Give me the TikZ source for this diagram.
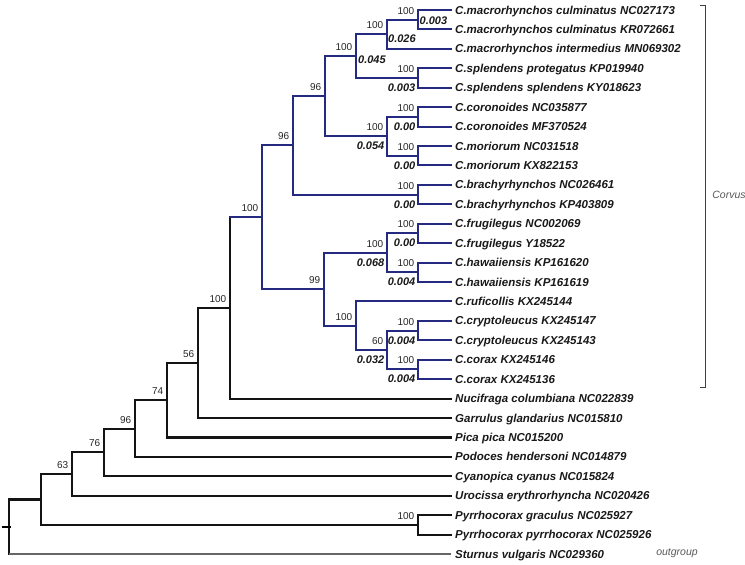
\documentclass[tikz,border=0pt]{standalone}
\usepackage{fontspec}
\setmainfont{Liberation Sans}
\definecolor{treeblue}{RGB}{36,42,128}
\begin{document}
\begin{tikzpicture}[x=1pt,y=-1pt,
  br/.style={line width=2.1pt, line cap=rect, black!92},
  bb/.style={line width=2pt, line cap=rect, treeblue},
  thinbr/.style={line width=1.1pt, gray!80!black},
  toleaf/.style={shorten >=4pt},
  taxon/.style={anchor=west, inner sep=0pt, text height=8.2pt, text depth=0pt,
    font=\fontsize{11.5}{12}\selectfont\bfseries\itshape, text=black!90},
  bs/.style={anchor=base east, inner sep=0pt, xshift=-3.5pt, yshift=5.5pt,
    font=\fontsize{10}{11}\selectfont, text=black!85},
  bl/.style={anchor=east, inner sep=0pt, xshift=-2.5pt, yshift=-9.7pt,
    font=\fontsize{11}{12}\selectfont\bfseries\itshape, text=black!90},
  blw/.style={anchor=west, inner sep=0pt,
    font=\fontsize{11}{12}\selectfont\bfseries\itshape, text=black!90},
  grp/.style={inner sep=0pt, font=\fontsize{10.5}{12}\selectfont\itshape, text=black!65}
]
\fill[white] (0,0) rectangle (745,565);
\useasboundingbox (0,0) rectangle (745,565);

% taxa
\node[taxon] (t0)  at (455,10)     {C.macrorhynchos culminatus NC027173};
\node[taxon] (t1)  at (455,29.43)  {C.macrorhynchos culminatus KR072661};
\node[taxon] (t2)  at (455,48.86)  {C.macrorhynchos intermedius MN069302};
\node[taxon] (t3)  at (455,68.29)  {C.splendens protegatus KP019940};
\node[taxon] (t4)  at (455,87.72)  {C.splendens splendens KY018623};
\node[taxon] (t5)  at (455,107.15) {C.coronoides NC035877};
\node[taxon] (t6)  at (455,126.58) {C.coronoides MF370524};
\node[taxon] (t7)  at (455,146.01) {C.moriorum NC031518};
\node[taxon] (t8)  at (455,165.44) {C.moriorum KX822153};
\node[taxon] (t9)  at (455,184.87) {C.brachyrhynchos NC026461};
\node[taxon] (t10) at (455,204.30) {C.brachyrhynchos KP403809};
\node[taxon] (t11) at (455,223.73) {C.frugilegus NC002069};
\node[taxon] (t12) at (455,243.16) {C.frugilegus Y18522};
\node[taxon] (t13) at (455,262.59) {C.hawaiiensis KP161620};
\node[taxon] (t14) at (455,282.02) {C.hawaiiensis KP161619};
\node[taxon] (t15) at (455,301.45) {C.ruficollis KX245144};
\node[taxon] (t16) at (455,320.88) {C.cryptoleucus KX245147};
\node[taxon] (t17) at (455,340.31) {C.cryptoleucus KX245143};
\node[taxon] (t18) at (455,359.74) {C.corax KX245146};
\node[taxon] (t19) at (455,379.17) {C.corax KX245136};
\node[taxon] (t20) at (455,398.60) {Nucifraga columbiana NC022839};
\node[taxon] (t21) at (455,418.03) {Garrulus glandarius NC015810};
\node[taxon] (t22) at (455,437.46) {Pica pica NC015200};
\node[taxon] (t23) at (455,456.89) {Podoces hendersoni NC014879};
\node[taxon] (t24) at (455,476.32) {Cyanopica cyanus NC015824};
\node[taxon] (t25) at (455,495.75) {Urocissa erythrorhyncha NC020426};
\node[taxon] (t26) at (455,515.18) {Pyrrhocorax graculus NC025927};
\node[taxon] (t27) at (455,534.61) {Pyrrhocorax pyrrhocorax NC025926};
\node[taxon] (t28) at (455,554.04) {Sturnus vulgaris NC029360};

% internal nodes
\coordinate (root)  at (9,526.77);
\coordinate (n63)   at (41,499.5);
\coordinate (n72)   at (72,474.1);
\coordinate (n104)  at (104,452.44);
\coordinate (n135)  at (135,428.56);
\coordinate (n167)  at (167,400.23);
\coordinate (n198)  at (198,363.0);
\coordinate (n230)  at (230,307.98);
\coordinate (cv)    at (262,217.36);
\coordinate (n293)  at (293,145.40);
\coordinate (n325)  at (325,96.22);
\coordinate (n356)  at (356,56.15);
\coordinate (n387a) at (387,34.29);
\coordinate (pculm) at (418,19.72);
\coordinate (pspl)  at (418,78.0);
\coordinate (n387b) at (387,136.3);
\coordinate (pcor)  at (418,116.87);
\coordinate (pmor)  at (418,155.73);
\coordinate (pbra)  at (418,194.59);
\coordinate (n324)  at (324,289.31);
\coordinate (n387c) at (387,252.88);
\coordinate (pfru)  at (418,233.45);
\coordinate (phaw)  at (418,272.31);
\coordinate (n356b) at (356,325.74);
\coordinate (n387d) at (387,350.03);
\coordinate (pcry)  at (418,330.6);
\coordinate (pcrx)  at (418,369.46);
\coordinate (ppyr)  at (418,524.9);

% black backbone
\draw[br] (root) |- (n63);
\draw[br] (root) -- (root |- t28.west);
\draw[thinbr, toleaf] (root |- t28.west) -- (t28.west);
\draw[line width=1.6pt] ([xshift=-7.5pt]root) -- ([xshift=1.5pt]root);
\draw[br] (n63) |- (n72);
\draw[br] (n63) |- (ppyr);
\draw[br, toleaf] (ppyr) |- (t26.west);
\draw[br, toleaf] (ppyr) |- (t27.west);
\draw[br] (n72) |- (n104);
\draw[br, toleaf] (n72) |- (t25.west);
\draw[br] (n104) |- (n135);
\draw[br, toleaf] (n104) |- (t24.west);
\draw[br] (n135) |- (n167);
\draw[br, toleaf] (n135) |- (t23.west);
\draw[br] (n167) |- (n198);
\draw[br, toleaf] (n167) |- (t22.west);
\draw[br] (n198) |- (n230);
\draw[br, toleaf] (n198) |- (t21.west);
\draw[br, toleaf] (n230) |- (t20.west);
\draw[br] (n230) -- (n230 |- cv);

% Corvus clade (blue)
\draw[bb] (n230 |- cv) -- (cv);
\draw[bb] (cv) |- (n293);
\draw[bb] (cv) |- (n324);
\draw[bb] (n293) |- (n325);
\draw[bb] (n293) |- (pbra);
\draw[bb] (n325) |- (n356);
\draw[bb] (n325) |- (n387b);
\draw[bb] (n356) |- (n387a);
\draw[bb] (n356) |- (pspl);
\draw[bb] (n387a) |- (pculm);
\draw[bb, toleaf] (n387a) |- (t2.west);
\draw[bb, toleaf] (pculm) |- (t0.west);
\draw[bb, toleaf] (pculm) |- (t1.west);
\draw[bb, toleaf] (pspl) |- (t3.west);
\draw[bb, toleaf] (pspl) |- (t4.west);
\draw[bb] (n387b) |- (pcor);
\draw[bb] (n387b) |- (pmor);
\draw[bb, toleaf] (pcor) |- (t5.west);
\draw[bb, toleaf] (pcor) |- (t6.west);
\draw[bb, toleaf] (pmor) |- (t7.west);
\draw[bb, toleaf] (pmor) |- (t8.west);
\draw[bb, toleaf] (pbra) |- (t9.west);
\draw[bb, toleaf] (pbra) |- (t10.west);
\draw[bb] (n324) |- (n387c);
\draw[bb] (n324) |- (n356b);
\draw[bb] (n387c) |- (pfru);
\draw[bb] (n387c) |- (phaw);
\draw[bb, toleaf] (pfru) |- (t11.west);
\draw[bb, toleaf] (pfru) |- (t12.west);
\draw[bb, toleaf] (phaw) |- (t13.west);
\draw[bb, toleaf] (phaw) |- (t14.west);
\draw[bb, toleaf] (n356b) |- (t15.west);
\draw[bb] (n356b) |- (n387d);
\draw[bb] (n387d) |- (pcry);
\draw[bb] (n387d) |- (pcrx);
\draw[bb, toleaf] (pcry) |- (t16.west);
\draw[bb, toleaf] (pcry) |- (t17.west);
\draw[bb, toleaf] (pcrx) |- (t18.west);
\draw[bb, toleaf] (pcrx) |- (t19.west);

% bootstrap values
\node[bs] (b1)  at (pculm) {100};
\node[bs] (b2)  at (n387a) {100};
\node[bs] (b3)  at (n356)  {100};
\node[bs] (b4)  at (pspl)  {100};
\node[bs] (b5)  at (n325)  {96};
\node[bs] (b6)  at (pcor)  {100};
\node[bs] (b7)  at (n387b) {100};
\node[bs] (b8)  at (pmor)  {100};
\node[bs] (b9)  at (n293)  {96};
\node[bs] (b10) at (pbra)  {100};
\node[bs] (b11) at (cv)    {100};
\node[bs] (b12) at (pfru)  {100};
\node[bs] (b13) at (n387c) {100};
\node[bs] (b14) at (phaw)  {100};
\node[bs] (b15) at (n324)  {99};
\node[bs] (b16) at (n356b) {100};
\node[bs] (b17) at (pcry)  {100};
\node[bs] (b18) at (n387d) {60};
\node[bs] (b19) at (pcrx)  {100};
\node[bs] (b20) at (n230)  {100};
\node[bs] (b21) at (n198)  {56};
\node[bs] (b22) at (n167)  {74};
\node[bs] (b23) at (n135)  {96};
\node[bs] (b24) at (n104)  {76};
\node[bs] (b25) at (n72)   {63};
\node[bs] (b26) at (ppyr)  {100};

% branch-length values
\node[blw, xshift=1.5pt, yshift=-1pt] (l1) at (pculm) {0.003};
\node[blw, xshift=1pt, yshift=-4.5pt] (l2) at (n387a) {0.026};
\node[blw, xshift=2pt, yshift=-4pt] (l3) at (n356) {0.045};
\node[bl] (l4)  at (pspl)  {0.003};
\node[bl] (l5)  at (pcor)  {0.00};
\node[bl] (l6)  at (n387b) {0.054};
\node[bl] (l7)  at (pmor)  {0.00};
\node[bl] (l8)  at (pbra)  {0.00};
\node[bl] (l9)  at (pfru)  {0.00};
\node[bl] (l10) at (n387c) {0.068};
\node[bl] (l11) at (phaw)  {0.004};
\node[bl] (l12) at (pcry)  {0.004};
\node[bl] (l13) at (n387d) {0.032};
\node[bl] (l14) at (pcrx)  {0.004};

% Corvus bracket
\coordinate (brt) at (705,5);
\coordinate (brb) at (705,387);
\draw[line width=0.9pt, black!75] ([xshift=-5pt]brt) -- (brt) -- (brb) -- ([xshift=-5pt]brb);
\node[grp] (corvus) at (729,195) {Corvus};
\node[grp] (outg) at (677,553) {outgroup};
\end{tikzpicture}
\end{document}
